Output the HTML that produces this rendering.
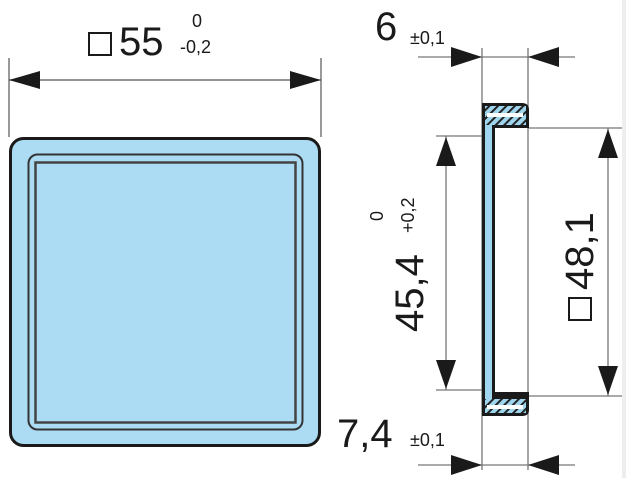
<!DOCTYPE html>
<html><head><meta charset="utf-8"><style>
html,body{margin:0;padding:0;background:#fff;width:626px;height:478px;overflow:hidden}
svg{display:block}
text{font-family:"Liberation Sans",sans-serif;fill:#1a1a1a}
</style></head><body>
<svg width="626" height="478" viewBox="0 0 626 478" xmlns="http://www.w3.org/2000/svg">
<defs>
<pattern id="h" width="6" height="6" patternUnits="userSpaceOnUse" patternTransform="rotate(45)">
<rect width="6" height="6" fill="#9fd6ee"/><rect width="2" height="6" fill="#222"/>
</pattern>
</defs>
<rect x="622" y="0" width="4" height="478" fill="#eee"/>
<rect x="10.5" y="138.5" width="309" height="307" rx="13" fill="#abdcf3" stroke="#1a1a1a" stroke-width="3"/>
<rect x="28.5" y="154.5" width="274" height="275" rx="9" fill="none" stroke="#333" stroke-width="2"/>
<rect x="35.5" y="162.5" width="260" height="260" fill="none" stroke="#444" stroke-width="2.5"/>
<g stroke="#555" stroke-width="1.2">
<line x1="9" y1="58" x2="9" y2="137"/><line x1="321" y1="58" x2="321" y2="137"/>
<line x1="9" y1="80" x2="321" y2="80"/>
</g>
<polygon points="9,80 40,71 40,89" fill="#1a1a1a"/>
<polygon points="321,80 290,71 290,89" fill="#1a1a1a"/>
<rect x="89" y="33" width="22" height="22" fill="none" stroke="#1a1a1a" stroke-width="2"/>
<text x="119" y="55" font-size="40">55</text>
<text x="192" y="27" font-size="18">0</text>
<text x="180" y="53" font-size="18">-0,2</text>
<g stroke="#777" stroke-width="1.3">
<line x1="482" y1="48" x2="482" y2="470"/><line x1="528" y1="48" x2="528" y2="470"/>
<line x1="418" y1="57" x2="575" y2="57"/>
<line x1="418" y1="465" x2="575" y2="465"/>
<line x1="436" y1="136" x2="482" y2="136"/>
<line x1="436" y1="390" x2="482" y2="390"/>
<line x1="528" y1="128" x2="622" y2="128"/>
<line x1="528" y1="396" x2="622" y2="396"/>
<line x1="446" y1="136" x2="446" y2="390"/>
<line x1="608" y1="128" x2="608" y2="396"/>
</g>
<polygon points="482,57 451,47 451,67" fill="#1a1a1a"/>
<polygon points="528,57 559,47 559,67" fill="#1a1a1a"/>
<polygon points="482,465 451,455 451,475" fill="#1a1a1a"/>
<polygon points="528,465 559,455 559,475" fill="#1a1a1a"/>
<polygon points="446,137 436,166 456,166" fill="#1a1a1a"/>
<polygon points="446,389 436,360 456,360" fill="#1a1a1a"/>
<polygon points="608,129 598,158 618,158" fill="#1a1a1a"/>
<polygon points="608,395 598,366 618,366" fill="#1a1a1a"/>
<path d="M482,103 H522 Q529,103 529,110 V128 H495 V392 H529 V410 Q529,416 522,416 H482 Z" fill="#1a1a1a"/>
<rect x="485" y="106" width="41" height="19" fill="url(#h)"/>
<rect x="485" y="399" width="41" height="14" fill="url(#h)"/>
<rect x="485" y="125" width="7" height="274" fill="#9fd6ee"/>
<rect x="487" y="113" width="36" height="4" fill="#fff"/>
<rect x="487" y="405" width="36" height="4" fill="#fff"/>
<text x="375" y="40" font-size="40">6</text>
<text x="410" y="44" font-size="18">±0,1</text>
<text x="337" y="447" font-size="40">7,4</text>
<text x="410" y="446" font-size="18">±0,1</text>
<g transform="translate(423,332) rotate(-90)">
<text x="0" y="0" font-size="40">45,4</text>
<text x="99" y="-9" font-size="18">+0,2</text>
<text x="111" y="-40" font-size="18">0</text>
</g>
<g transform="translate(593,320) rotate(-90)">
<rect x="0" y="-24" width="22" height="22" fill="none" stroke="#1a1a1a" stroke-width="2"/>
<text x="30" y="0" font-size="40">48,1</text>
</g>
</svg>
</body></html>
